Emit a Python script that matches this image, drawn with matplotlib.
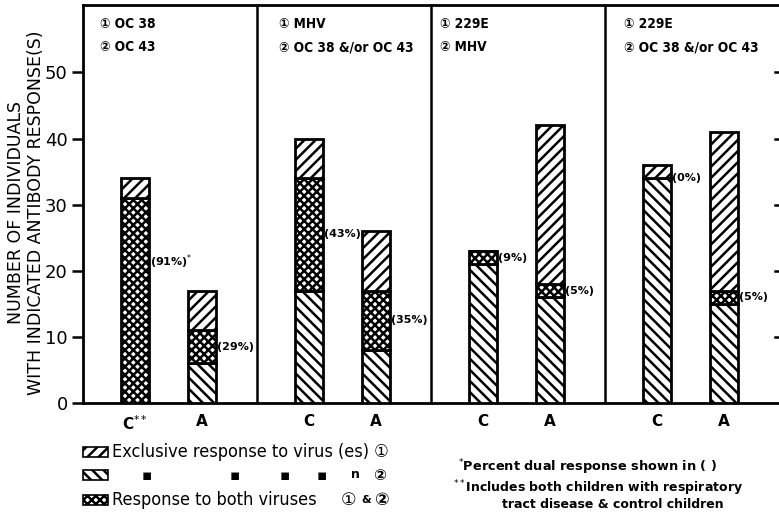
import matplotlib
matplotlib.use("Agg")
import matplotlib.pyplot as plt
from matplotlib.patches import Rectangle
import numpy as np

# ---------------- data ----------------
virus1 = ["OC 38", "MHV", "229E", "229E"]
virus2 = ["OC 43", "OC 38 &/or OC 43", "MHV", "OC 38 &/or OC 43"]
groups = ["C", "A"]
# per panel, per group (C, A)
excl2 = [0, 6, 17, 8, 21, 16, 34, 15]     # exclusive response to virus 2 (bottom)
both = [31, 5, 17, 9, 2, 2, 0, 2]         # response to both viruses
excl1 = [3, 6, 6, 9, 0, 24, 2, 24]        # exclusive response to virus 1 (top)
pct_labels = ["(91%)$^{*}$", "(29%)", "(43%)", "(35%)", "(9%)", "(5%)", "(0%)", "(5%)"]
xtick_labels = ["C$^{**}$", "A", "C", "A", "C", "A", "C", "A"]
yticks = [0, 10, 20, 30, 40, 50]

# ---------------- style ----------------
plt.rcParams['font.family'] = ['DejaVu Sans']
plt.rcParams['hatch.linewidth'] = 1.8
plt.rcParams['hatch.color'] = 'black'

W, H = 779, 513
fig = plt.figure(figsize=(W / 100, H / 100), dpi=100)
ax = fig.add_axes([83 / W, 1 - 403 / H, (W - 83) / W, 398 / H])
ax.set_xlim(0, 4)
ax.set_ylim(0, 60.2)

n_panels = len(virus1)
offsets = [0.30, 0.685]
bw = 0.16
xpos = np.array([p + o for p in range(n_panels) for o in offsets])

e2 = np.array(excl2, float)
bo = np.array(both, float)
e1 = np.array(excl1, float)

kw = dict(width=bw, edgecolor='black', linewidth=2, facecolor='white', zorder=3)
ax.bar(xpos, e2, hatch='\\\\\\', **kw)
ax.bar(xpos, bo, bottom=e2, hatch='xxxx', **kw)
ax.bar(xpos, e1, bottom=e2 + bo, hatch='///', **kw)

# percent labels
for i, (x, lab) in enumerate(zip(xpos, pct_labels)):
    y = e2[i] + bo[i] / 2
    if i == 0:
        y = e2[i] + bo[i] * 0.69
    ax.text(x + bw / 2 + 0.005, y, lab, fontsize=8, fontweight='bold',
            va='center', ha='left', zorder=4)

# panel dividers
for p in range(1, n_panels):
    ax.axvline(p, color='black', linewidth=1.8, zorder=2)

# panel headers
hdr_off = [0.10, 0.125, 0.05, 0.11]
for p in range(n_panels):
    ax.text(p + hdr_off[p], 57.3, "\u2460 " + virus1[p], fontsize=9.8, fontweight='bold',
            fontstretch='condensed', va='center', ha='left')
    ax.text(p + hdr_off[p], 53.8, "\u2461 " + virus2[p], fontsize=9.8, fontweight='bold',
            fontstretch='condensed', va='center', ha='left')

# axes styling
for s in ['left', 'bottom', 'top']:
    ax.spines[s].set_linewidth(2)
ax.spines['right'].set_visible(False)
ax.set_yticks(yticks)
ax.set_yticklabels([str(t) for t in yticks], fontsize=13)
ax.tick_params(axis='y', direction='out', length=8, width=1.8, pad=3)
ax.set_xticks(xpos)
ax.set_xticklabels(xtick_labels, fontsize=11, fontweight='bold')
ax.tick_params(axis='x', length=0, pad=8)
# right-side inward ticks
for t in yticks[1:]:
    ax.plot([3.975, 4.0], [t, t], color='black', linewidth=1.8, clip_on=False)
ax.yaxis.set_ticks_position('left')

fig.text(26 / W, 1 - 213 / H, "NUMBER OF INDIVIDUALS\nWITH INDICATED ANTIBODY RESPONSE(S)",
         rotation=90, ha='center', va='center', fontsize=12.5, multialignment='center',
         linespacing=1.15)

# ---------------- legend ----------------
leg_rows = [(447, '///', "Exclusive response to virus (es) \u2460"),
            (470, '\\\\\\', None),
            (495, 'xxxx', "Response to both viruses")]
for ytop, hatch, txt in leg_rows:
    fig.patches.append(Rectangle((83 / W, 1 - (ytop + 10) / H), 25 / W, 10 / H,
                                 transform=fig.transFigure, facecolor='white',
                                 edgecolor='black', hatch=hatch, linewidth=1.2))
    if txt:
        fig.text(112 / W, 1 - (ytop + 5) / H, txt, fontsize=13, va='center', ha='left',
                 fontstretch='condensed')
# ditto row
for xx, s in [(147, "\u25aa"), (235, "\u25aa"), (285, "\u25aa"), (322, "\u25aa"), (355, "n"), (380, "\u2461")]:
    fig.text(xx / W, 1 - 475 / H, s, fontsize=11 if s != "n" else 9, va='center', ha='center',
             fontweight='bold')
fig.text(349 / W, 1 - 500 / H, "\u2460", fontsize=12.5, va='center', ha='center')
fig.text(366 / W, 1 - 500 / H, "&", fontsize=8, va='center', ha='center', fontweight='bold')
fig.text(382 / W, 1 - 500 / H, "\u2461", fontsize=12.5, va='center', ha='center', fontweight='bold')

# footnotes
fig.text(458 / W, 1 - 467 / H, "$^{*}$Percent dual response shown in ( )", fontsize=9.3,
         fontweight='bold', va='center', ha='left')
fig.text(453 / W, 1 - 488 / H, "$^{**}$Includes both children with respiratory", fontsize=9,
         fontweight='bold', va='center', ha='left')
fig.text(502 / W, 1 - 505 / H, "tract disease & control children", fontsize=9,
         fontweight='bold', va='center', ha='left')

fig.savefig("out.png", dpi=100)
